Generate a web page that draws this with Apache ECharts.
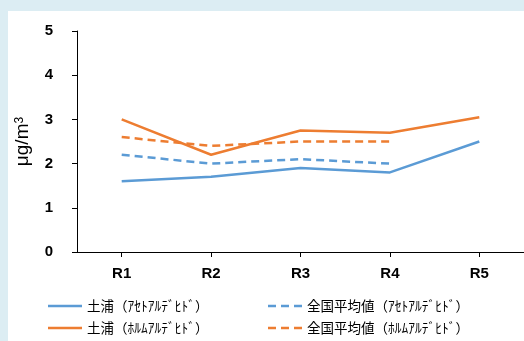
<!DOCTYPE html>
<html>
<head>
<meta charset="utf-8">
<script src="https://cdn.jsdelivr.net/npm/echarts@6/dist/echarts.min.js"></script>
<style>
  html, body { margin: 0; padding: 0; background: #dcedf3; }
  #panel { position: absolute; left: 8px; top: 11px; width: 516px; height: 330px; background: #ffffff; }
  #chart { position: absolute; left: 0; top: 0; width: 524px; height: 341px; }
</style>
</head>
<body>
<div id="panel"></div>
<div id="chart"></div>
<script>
// Survey rounds
const rounds = ['R1', 'R2', 'R3', 'R4', 'R5'];

// Concentrations (µg/m3)
const tsuchiuraAcet = [1.6, 1.7, 1.9, 1.8, 2.5];
const nationalAcet  = [2.2, 2.0, 2.1, 2.0];
const tsuchiuraForm = [3.0, 2.2, 2.75, 2.7, 3.05];
const nationalForm  = [2.6, 2.4, 2.5, 2.5];

const yTicks = { min: 0, max: 5, interval: 1 };

const names = {
  ta: '土浦（ｱｾﾄｱﾙﾃﾞﾋﾄﾞ）',
  na: '全国平均値（ｱｾﾄｱﾙﾃﾞﾋﾄﾞ）',
  tf: '土浦（ﾎﾙﾑｱﾙﾃﾞﾋﾄﾞ）',
  nf: '全国平均値（ﾎﾙﾑｱﾙﾃﾞﾋﾄﾞ）'
};

const BLUE = '#5b9bd5';
const ORANGE = '#ed7d31';

// Legend keys: a thin bar (solid) or three short bars (dashed), padded with
// two tiny corner dots so the icon keeps its 34x14 box without stretching.
const PAD = 'M0,0h0.01v0.01h-0.01zM33.99,13.99h0.01v0.01h-0.01z';
const ICON_SOLID = 'path://' + PAD + 'M0,5.75h34v2.5h-34z';
const ICON_DASH = 'path://' + PAD + 'M0,5.75h8v2.5h-8zM13,5.75h8v2.5h-8zM26,5.75h8v2.5h-8z';

function line(name, data, color, dashed) {
  return {
    name: name,
    type: 'line',
    data: data,
    symbol: 'none',
    lineStyle: { color: color, width: 2.5, type: dashed ? [8, 5] : 'solid' },
    itemStyle: { color: color },
    animation: false
  };
}

const chart = echarts.init(document.getElementById('chart'), null, { renderer: 'canvas' });

const legendText = { fontFamily: 'Noto Sans CJK JP', fontSize: 13.5, color: '#000' };

chart.setOption({
  backgroundColor: 'transparent',
  grid: { left: 77, top: 31, right: -3, bottom: 89, containLabel: false },
  legend: [
    {
      left: 43, top: 294, orient: 'vertical', itemWidth: 34, itemHeight: 14, itemGap: 8,
      data: [{ name: names.ta, icon: ICON_SOLID }, { name: names.tf, icon: ICON_SOLID }],
      textStyle: legendText, itemStyle: { borderWidth: 0 }
    },
    {
      left: 263, top: 294, orient: 'vertical', itemWidth: 34, itemHeight: 14, itemGap: 8,
      data: [{ name: names.na, icon: ICON_DASH }, { name: names.nf, icon: ICON_DASH }],
      textStyle: legendText, itemStyle: { borderWidth: 0 }
    }
  ],
  xAxis: {
    type: 'category',
    data: rounds,
    boundaryGap: true,
    axisLine: { lineStyle: { color: '#000', width: 1 } },
    axisTick: { show: true, alignWithLabel: true, length: 5, lineStyle: { color: '#000' } },
    axisLabel: { color: '#000', fontFamily: 'Liberation Sans', fontWeight: 'bold', fontSize: 15, margin: 14 }
  },
  yAxis: {
    type: 'value',
    min: yTicks.min, max: yTicks.max, interval: yTicks.interval,
    splitLine: { show: false },
    axisLine: { show: true, lineStyle: { color: '#000', width: 1 } },
    axisTick: { show: true, length: 5, lineStyle: { color: '#000' } },
    axisLabel: { color: '#000', fontFamily: 'Liberation Sans', fontWeight: 'bold', fontSize: 15, margin: 24 },
    name: 'μg/m{sup|3}',
    nameLocation: 'middle',
    nameRotate: 90,
    nameGap: 38,
    nameTextStyle: {
      color: '#000', fontFamily: 'Liberation Sans', fontSize: 19,
      rich: { sup: { fontSize: 12, verticalAlign: 'top', lineHeight: 19, padding: [0, 0, 8, 0] } }
    }
  },
  series: [
    line(names.ta, tsuchiuraAcet, BLUE, false),
    line(names.na, nationalAcet, BLUE, true),
    line(names.tf, tsuchiuraForm, ORANGE, false),
    line(names.nf, nationalForm, ORANGE, true)
  ]
});
</script>
</body>
</html>
